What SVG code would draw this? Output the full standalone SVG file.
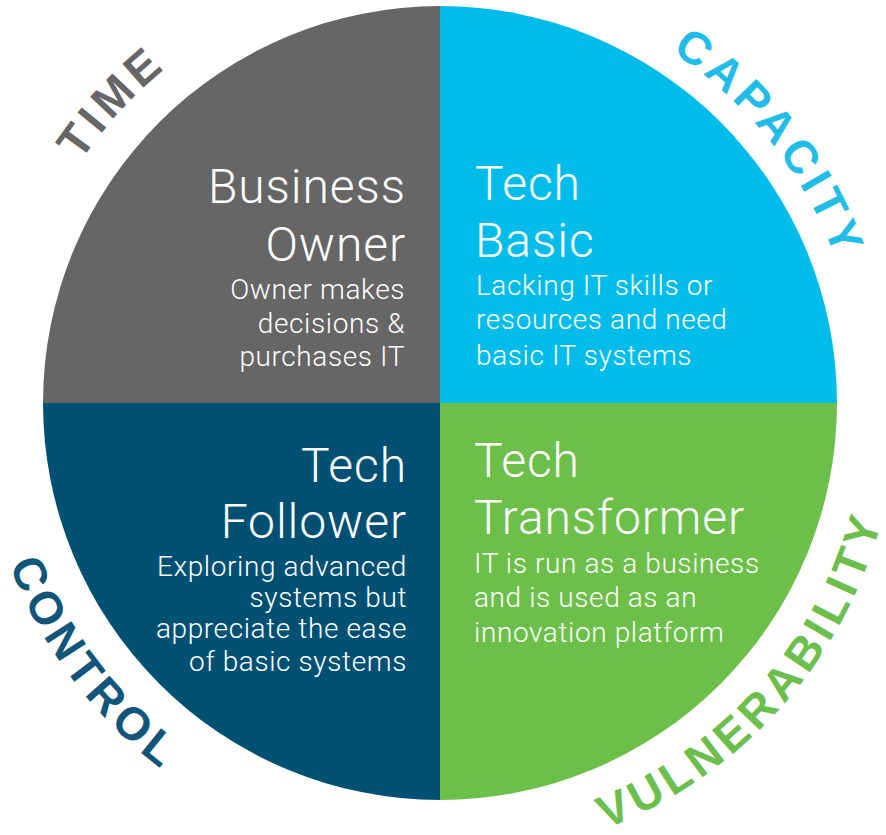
<svg xmlns="http://www.w3.org/2000/svg" xmlns:xlink="http://www.w3.org/1999/xlink" width="886" height="835" viewBox="0 0 886 835">
  <style>
    .title { font-family: Roboto, "Liberation Sans", Arial, sans-serif; font-weight: 300; font-size: 48px; fill: #ffffff; letter-spacing: 0.9px; }
    .sub { font-family: Roboto, "Liberation Sans", Arial, sans-serif; font-weight: 300; font-size: 28px; fill: #ffffff; letter-spacing: 0.6px; }
    .end { text-anchor: end; }
    .arc { font-family: "Liberation Sans", Arial, sans-serif; font-weight: 700; font-size: 46px; letter-spacing: 5px; text-anchor: middle; }
  </style>
  <defs>
    <path id="arcTime" d="M 7,403 A 433 433 0 0 1 873,403"/>
    <path id="arcCapacity" d="M 19,403 A 421 421 0 0 1 861,403"/>
    <path id="arcControl" d="M -20,403 A 460 460 0 0 0 900,403"/>
    <path id="arcVuln" d="M -17,403 A 457 457 0 0 0 897,403"/>
  </defs>
  <rect width="886" height="835" fill="#ffffff"/>

  <g id="business-owner">
    <path d="M440,403 L43,403 A397,397 0 0 1 440,6 Z" fill="#666666"/>
    <text class="title end" x="406" y="203">Business</text>
    <text class="title end" x="406" y="261">Owner</text>
    <text class="sub end" x="405" y="299">Owner makes</text>
    <text class="sub end" x="405" y="333">decisions &amp;</text>
    <text class="sub end" x="405" y="366">purchases IT</text>
  </g>

  <g id="tech-basic">
    <path d="M440,403 L440,6 A397,397 0 0 1 837,403 Z" fill="#00BCEB"/>
    <text class="title" x="475" y="200">Tech</text>
    <text class="title" x="475" y="257">Basic</text>
    <text class="sub" x="476" y="295">Lacking IT skills or</text>
    <text class="sub" x="476" y="329">resources and need</text>
    <text class="sub" x="476" y="365">basic IT systems</text>
  </g>

  <g id="tech-follower">
    <path d="M440,403 L440,800 A397,397 0 0 1 43,403 Z" fill="#005073"/>
    <text class="title end" x="407" y="482">Tech</text>
    <text class="title end" x="407" y="538">Follower</text>
    <text class="sub end" x="407" y="576">Exploring advanced</text>
    <text class="sub end" x="407" y="607">systems but</text>
    <text class="sub end" x="407" y="638">appreciate the ease</text>
    <text class="sub end" x="407" y="671">of basic systems</text>
  </g>

  <g id="tech-transformer">
    <path d="M440,403 L837,403 A397,397 0 0 1 440,800 Z" fill="#6CC04A"/>
    <text class="title" x="474" y="477">Tech</text>
    <text class="title" x="474" y="534">Transformer</text>
    <text class="sub" x="474" y="573">IT is run as a business</text>
    <text class="sub" x="474" y="607">and is used as an</text>
    <text class="sub" x="474" y="642">innovation platform</text>
  </g>

  <g id="label-time">
    <text class="arc" fill="#666666"><textPath xlink:href="#arcTime" href="#arcTime" startOffset="23.6%">TIME</textPath></text>
  </g>
  <g id="label-capacity">
    <text class="arc" fill="#22BCE8"><textPath xlink:href="#arcCapacity" href="#arcCapacity" startOffset="78.8%">CAPACITY</textPath></text>
  </g>
  <g id="label-control">
    <text class="arc" fill="#11567A"><textPath xlink:href="#arcControl" href="#arcControl" startOffset="20.5%">CONTROL</textPath></text>
  </g>
  <g id="label-vulnerability">
    <text class="arc" fill="#6CBF4C"><textPath xlink:href="#arcVuln" href="#arcVuln" startOffset="76.9%">VULNERABILITY</textPath></text>
  </g>
</svg>
